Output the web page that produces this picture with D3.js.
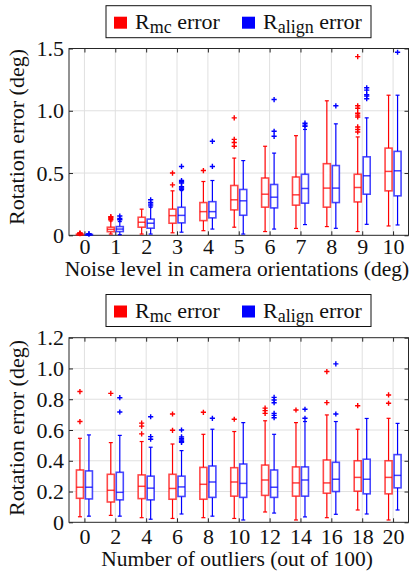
<!DOCTYPE html>
<html><head><meta charset="utf-8">
<script src="https://cdn.jsdelivr.net/npm/d3@7"></script>
<style>
body{margin:0;background:#fff}
svg{display:block}
text{font-family:'Liberation Serif','Times New Roman',Times,'DejaVu Serif',serif;fill:#111}
</style>
</head><body>
<svg id="c" width="411" height="576"></svg>
<script>
// ---------- DATA ----------
// stats: [lower whisker, Q1, median, Q3, upper whisker]
const noiseLevels = ["0","1","2","3","4","5","6","7","8","9","10"];
const noiseMcStats = [
  [0.001,0.004,0.006,0.009,0.013],
  [0.010,0.029,0.048,0.065,0.115],
  [0.010,0.065,0.105,0.145,0.210],
  [0.020,0.097,0.158,0.210,0.357],
  [0.037,0.118,0.190,0.263,0.432],
  [0.065,0.204,0.285,0.400,0.620],
  [0.030,0.226,0.330,0.460,0.715],
  [0.055,0.242,0.325,0.468,0.800],
  [0.070,0.226,0.379,0.575,1.080],
  [0.030,0.268,0.384,0.490,0.790],
  [0.075,0.357,0.513,0.700,1.125]
];
const noiseMcOut = [
  [0.014,0.016,0.018],
  [0.125,0.135,0.145,0.150],
  [],
  [0.405,0.500],
  [0.520],
  [0.715,0.745,0.770,0.943],
  [],
  [],
  [],
  [0.830,0.850,0.870,0.950,0.965,0.980,1.020,1.040,1.435],
  []
];
const noiseAlignStats = [
  [0.001,0.003,0.005,0.007,0.010],
  [0.005,0.030,0.050,0.070,0.110],
  [0.010,0.057,0.097,0.130,0.225],
  [0.025,0.100,0.160,0.225,0.360],
  [0.050,0.140,0.190,0.270,0.440],
  [0.010,0.161,0.277,0.368,0.600],
  [0.050,0.220,0.306,0.408,0.660],
  [0.086,0.258,0.376,0.490,0.850],
  [0.056,0.263,0.379,0.560,0.895],
  [0.088,0.330,0.478,0.630,0.943],
  [0.083,0.317,0.518,0.674,1.125]
];
const noiseAlignOut = [
  [0.011,0.012],
  [0.125,0.135,0.155],
  [0.236,0.250,0.263,0.285],
  [0.370,0.380,0.390,0.420,0.430,0.440,0.553],
  [0.553,0.755],
  [],
  [0.795,0.835,1.090],
  [0.875,0.885,0.900],
  [1.040],
  [1.097,1.118,1.130,1.166,1.185],
  [1.470]
];
const noiseYTicks = [0, 0.5, 1.0, 1.5];
const noiseYLabels = ["0","0.5","1.0","1.5"];

const outlierCounts = ["0","2","4","6","8","10","12","14","16","18","20"];
const outMcStats = [
  [0.036,0.156,0.228,0.340,0.546],
  [0.045,0.132,0.208,0.312,0.518],
  [0.030,0.154,0.234,0.308,0.525],
  [0.025,0.150,0.220,0.312,0.509],
  [0.030,0.150,0.247,0.357,0.572],
  [0.025,0.170,0.262,0.355,0.590],
  [0.067,0.175,0.275,0.372,0.660],
  [0.015,0.170,0.256,0.360,0.648],
  [0.030,0.189,0.256,0.405,0.698],
  [0.080,0.202,0.292,0.400,0.605],
  [0.015,0.185,0.292,0.400,0.676]
];
const outMcOut = [
  [0.655,0.850],
  [0.838],
  [0.575,0.625,0.645],
  [0.598,0.704],
  [0.715],
  [0.670],
  [0.708,0.726,0.742],
  [0.730],
  [0.778,0.980],
  [0.758],
  [0.774,0.828]
];
const outAlignStats = [
  [0.040,0.152,0.228,0.334,0.568],
  [0.040,0.146,0.195,0.325,0.565],
  [0.020,0.146,0.222,0.300,0.488],
  [0.054,0.168,0.230,0.300,0.466],
  [0.040,0.162,0.262,0.366,0.605],
  [0.015,0.162,0.253,0.379,0.648],
  [0.060,0.162,0.228,0.340,0.572],
  [0.035,0.170,0.275,0.360,0.655],
  [0.052,0.200,0.280,0.390,0.655],
  [0.054,0.185,0.280,0.410,0.675],
  [0.080,0.224,0.305,0.440,0.643]
];
const outAlignOut = [
  [],
  [0.717,0.810],
  [0.540,0.557,0.686],
  [0.520,0.525,0.535,0.545,0.555,0.600],
  [0.676],
  [],
  [0.680,0.695,0.708,0.777,0.795,0.812],
  [0.676,0.735],
  [0.704,1.030],
  [],
  []
];
const outYTicks = [0, 0.2, 0.4, 0.6, 0.8, 1.0, 1.2];
const outYLabels = ["0","0.2","0.4","0.6","0.8","1.0","1.2"];

const seriesNames = [{main:"R", sub:"mc", rest:" error"}, {main:"R", sub:"align", rest:" error"}];
const seriesColors = ["#ff0000", "#0000ff"];

// ---------- DRAW ----------
const svg = d3.select("#c");
const FS = 22;
const FONT = "'Liberation Serif','Times New Roman',Times,'DejaVu Serif',serif";

function panel(cfg){
  const g = svg.append("g").attr("font-family", FONT);
  const x = d3.scaleLinear().domain([-0.5, cfg.cats.length - 0.5]).range([69, 408.5]);
  const y = d3.scaleLinear().domain([cfg.yTicks[0], cfg.yTicks[cfg.yTicks.length-1]]).range([cfg.bottom, cfg.top]);
  const idx = cfg.cats.map((d,i)=>i);

  // grid
  g.append("g").selectAll("line").data(idx).join("line")
    .attr("x1", d=>x(d)).attr("x2", d=>x(d)).attr("y1", y.range()[0]).attr("y2", y.range()[1])
    .attr("stroke", "#e0e0e0").attr("stroke-width", 1);
  g.append("g").selectAll("line").data(cfg.yTicks.slice(1,-1)).join("line")
    .attr("x1", x.range()[0]).attr("x2", x.range()[1]).attr("y1", d=>y(d)).attr("y2", d=>y(d))
    .attr("stroke", "#e0e0e0").attr("stroke-width", 1);

  // axes (ticks inward)
  const xAxis = d3.axisBottom(x).tickValues(idx).tickFormat(i=>cfg.cats[i]).tickSize(-4).tickPadding(cfg.xPad);
  const yAxis = d3.axisLeft(y).tickValues(cfg.yTicks).tickFormat((d,i)=>cfg.yLabels[i]).tickSize(-4).tickPadding(5);
  const ax = g.append("g").attr("transform", `translate(0,${cfg.bottom})`).call(xAxis);
  const ay = g.append("g").attr("transform", `translate(69,0)`).call(yAxis);
  g.append("g").attr("transform", `translate(0,${cfg.top})`).call(d3.axisTop(x).tickValues(idx).tickFormat("").tickSize(-4));
  g.append("g").attr("transform", `translate(408.5,0)`).call(d3.axisRight(y).tickValues(cfg.yTicks).tickFormat("").tickSize(-4));
  g.selectAll(".domain").remove();
  g.selectAll(".tick line").attr("stroke", "#262626");
  [ax, ay].forEach(a => {
    a.attr("font-family", FONT).attr("font-size", FS);
    a.selectAll("text").attr("fill", "#111");
  });

  // frame
  g.append("rect").attr("x", x.range()[0]).attr("y", cfg.top)
    .attr("width", x.range()[1]-x.range()[0]).attr("height", cfg.bottom-cfg.top)
    .attr("fill", "none").attr("stroke", "#262626").attr("stroke-width", 1);

  // boxes
  const offsets = [-4.5, 4.5];
  const bw = 7, cw = 4;
  cfg.series.forEach((s, si) => {
    const col = seriesColors[si];
    const sg = g.append("g");
    const grp = sg.selectAll("g").data(s.stats).join("g")
      .attr("transform", (d,i)=>`translate(${x(i)+offsets[si]},0)`);
    grp.append("line").attr("x1",0).attr("x2",0).attr("y1",d=>y(d[3])).attr("y2",d=>y(d[4]))
      .attr("stroke", col).attr("stroke-width", 1.2);
    grp.append("line").attr("x1",0).attr("x2",0).attr("y1",d=>y(d[1])).attr("y2",d=>y(d[0]))
      .attr("stroke", col).attr("stroke-width", 1.2);
    grp.append("line").attr("x1",-cw/2).attr("x2",cw/2).attr("y1",d=>y(d[4])).attr("y2",d=>y(d[4]))
      .attr("stroke", col).attr("stroke-width", 1.2);
    grp.append("line").attr("x1",-cw/2).attr("x2",cw/2).attr("y1",d=>y(d[0])).attr("y2",d=>y(d[0]))
      .attr("stroke", col).attr("stroke-width", 1.2);
    grp.append("rect").attr("x",-bw/2).attr("width",bw)
      .attr("y",d=>y(d[3])).attr("height",d=>Math.max(0.5, y(d[1])-y(d[3])))
      .attr("fill","#fff").attr("stroke", col).attr("stroke-width", 1.6).attr("stroke-opacity", 0.72);
    grp.append("line").attr("x1",-bw/2).attr("x2",bw/2).attr("y1",d=>y(d[2])).attr("y2",d=>y(d[2]))
      .attr("stroke", col).attr("stroke-width", 1.5).attr("stroke-opacity", 0.75);
    const pts = [];
    s.out.forEach((arr,i)=>arr.forEach(v=>pts.push([i,v])));
    sg.selectAll("path.o").data(pts).join("path").attr("class","o")
      .attr("d", d=>{const cx=x(d[0])+offsets[si], cy=y(d[1]), r=2.6;
        return `M${cx-r},${cy}H${cx+r}M${cx},${cy-r}V${cy+r}`;})
      .attr("stroke", col).attr("stroke-width", 1.4).attr("fill","none");
  });

  // axis titles
  g.append("text").attr("x", 237).attr("y", cfg.xTitleY).attr("text-anchor","middle")
    .attr("font-size", 21.5).text(cfg.xTitle);
  g.append("text").attr("transform", `translate(24,${cfg.yTitleY}) rotate(-90)`).attr("text-anchor","middle")
    .attr("font-size", FS).text("Rotation error (deg)");

  // legend
  const lg = g.append("g").attr("transform", `translate(106,${cfg.legendY})`);
  lg.append("rect").attr("width", 265).attr("height", 32).attr("fill","#fff")
    .attr("stroke","#111").attr("stroke-width",1);
  const itemX = [8, 136];
  seriesNames.forEach((n, si) => {
    const it = lg.append("g").attr("transform", `translate(${itemX[si]},0)`);
    it.append("rect").attr("x",0).attr("y",11).attr("width",13).attr("height",12).attr("fill", seriesColors[si]);
    const t = it.append("text").attr("x", 21).attr("y", 23.5).attr("font-size", FS);
    t.append("tspan").text(n.main);
    t.append("tspan").attr("dy", 4).attr("font-size", 18).text(n.sub);
    t.append("tspan").attr("dy", -4).text(n.rest);
  });
}

panel({
  cats: noiseLevels, top: 48.5, bottom: 235.3,
  yTicks: noiseYTicks, yLabels: noiseYLabels, xPad: 3,
  series: [{stats: noiseMcStats, out: noiseMcOut}, {stats: noiseAlignStats, out: noiseAlignOut}],
  xTitle: "Noise level in camera orientations (deg)", xTitleY: 276, yTitleY: 137, legendY: 5.7
});
panel({
  cats: outlierCounts, top: 337.7, bottom: 522.3,
  yTicks: outYTicks, yLabels: outYLabels, xPad: 6,
  series: [{stats: outMcStats, out: outMcOut}, {stats: outAlignStats, out: outAlignOut}],
  xTitle: "Number of outliers (out of 100)", xTitleY: 566, yTitleY: 428, legendY: 294.5
});
</script>
</body></html>
